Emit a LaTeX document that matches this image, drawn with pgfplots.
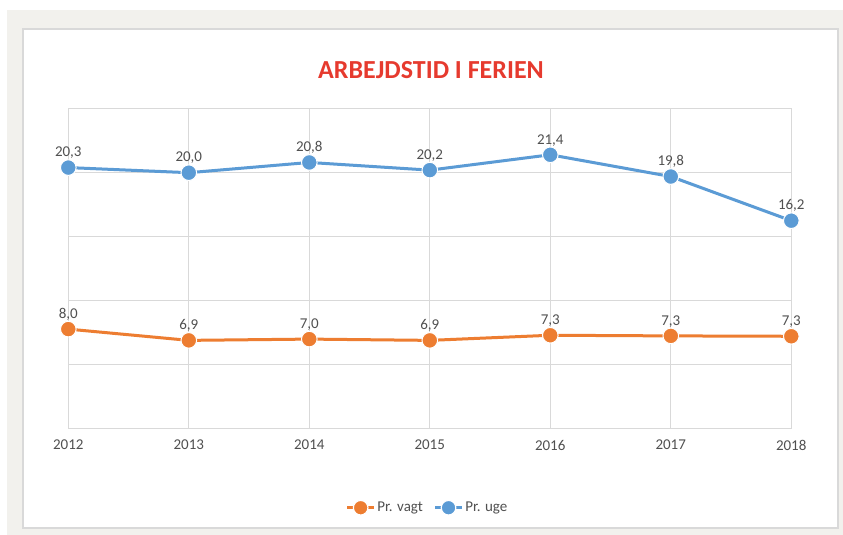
\documentclass[border=0pt]{standalone}
\usepackage{pgfplots}
\pgfplotsset{compat=1.18}
\usepackage{fontspec}
\setmainfont{Carlito}
\definecolor{bgout}{HTML}{F2F1ED}
\definecolor{panelb}{HTML}{D9D9D9}
\definecolor{gridc}{HTML}{D9D9D9}
\definecolor{ttl}{HTML}{E63A2E}
\definecolor{txt}{HTML}{505050}
\definecolor{orng}{HTML}{ED7D31}
\definecolor{blu}{HTML}{5B9BD5}
\begin{document}
\begin{tikzpicture}[x=1pt,y=1pt]
\fill[white] (0,0) rectangle (843,535);
\fill[bgout] (7,0) rectangle (843,525);
\filldraw[fill=white,draw=panelb,line width=1.5pt] (23,7) rectangle (838,506);
\node[font=\bfseries\fontsize{26}{30}\selectfont,text=ttl] at (431,465) {ARBEJDSTID I FERIEN};
\begin{axis}[
  at={(68.3pt,106.3pt)}, anchor=south west,
  scale only axis, width=723pt, height=320pt,
  xmin=2012, xmax=2018, ymin=0, ymax=25,
  xtick={2012,...,2018}, ytick={0,5,...,25},
  yticklabels={}, 
  xticklabel style={/pgf/number format/1000 sep={}, font=\fontsize{15}{17}\selectfont, text=txt, yshift=-8pt},
  /pgf/number format/assume math mode=true,
  major tick length=0pt,
  xmajorgrids, ymajorgrids,
  grid style={gridc, line width=1.3pt},
  axis line style={gridc, line width=1.3pt},
  point meta=explicit symbolic,
  nodes near coords,
  nodes near coords style={font=\fontsize{15}{17}\selectfont, text=txt, anchor=south, yshift=5pt},
  legend style={at={(0.497,-0.247)}, anchor=center, draw=none, fill=none,
    font=\fontsize{15}{17}\selectfont, text=txt, legend columns=2,
    /tikz/every even column/.append style={column sep=9pt}},
  legend image code/.code={
    \draw[#1, mark=none, line width=2.5pt] (0pt,0pt) -- (7pt,0pt);
    \draw[#1, mark=none, line width=2.5pt] (20pt,0pt) -- (27pt,0pt);
    \fill[#1, draw=white, line width=1.2pt] (13.5pt,0pt) circle (7.3pt);
  },
]
\addplot[orng, line width=3pt, mark=*, mark size=7.8pt, mark options={fill=orng, draw=white, line width=1pt}]
  table[meta=lab] {
  x y lab
  2012 7.78 8,0
  2013 6.9 6,9
  2014 7.0 7,0
  2015 6.9 6,9
  2016 7.3 7,3
  2017 7.25 7,3
  2018 7.22 7,3
  };
\addlegendentry{Pr. vagt}
\addplot[blu, line width=3pt, mark=*, mark size=7.8pt, mark options={fill=blu, draw=white, line width=1pt}]
  table[meta=lab] {
  x y lab
  2012 20.4 20,3
  2013 20.0 20,0
  2014 20.8 20,8
  2015 20.2 20,2
  2016 21.4 21,4
  2017 19.7 19,8
  2018 16.25 16,2
  };
\addlegendentry{Pr. uge}
\end{axis}
\end{tikzpicture}
\end{document}
